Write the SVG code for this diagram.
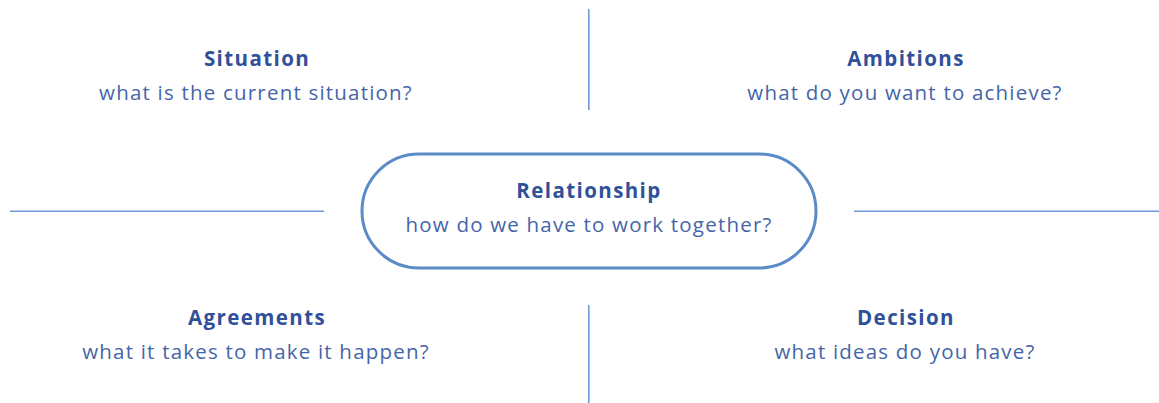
<svg xmlns="http://www.w3.org/2000/svg" width="1159" height="403" viewBox="0 0 1159 403">
<style>
.t{font-family:"Open Sans","Noto Sans",sans-serif;font-weight:bold;font-size:20.5px;fill:#30509a;text-anchor:middle;letter-spacing:1.4px}
.s{font-family:"Open Sans","Noto Sans",sans-serif;font-size:20.5px;fill:#4565a8;text-anchor:middle;letter-spacing:1.2px}
.ln{stroke:#7199d8;stroke-width:1.6;fill:none}
</style>
<rect width="1159" height="403" fill="#fff"/>
<g id="connectors">
<line class="ln" x1="588.8" y1="9" x2="588.8" y2="110"/>
<line class="ln" x1="588.8" y1="305" x2="588.8" y2="403"/>
<line class="ln" x1="10" y1="211.2" x2="324" y2="211.2"/>
<line class="ln" x1="854" y1="211.2" x2="1159" y2="211.2"/>
</g>
<g id="relationship">
<rect x="362" y="154" width="454" height="114" rx="57" ry="57" fill="#fff" stroke="#5b8ac9" stroke-width="3"/>
<text class="t" x="589" y="198">Relationship</text>
<text class="s" x="589" y="232">how do we have to work together?</text>
</g>
<g id="situation">
<text class="t" x="257" y="66">Situation</text>
<text class="s" x="256" y="100">what is the current situation?</text>
</g>
<g id="ambitions">
<text class="t" x="906" y="66">Ambitions</text>
<text class="s" x="905" y="100">what do you want to achieve?</text>
</g>
<g id="agreements">
<text class="t" x="257" y="325">Agreements</text>
<text class="s" x="256" y="359">what it takes to make it happen?</text>
</g>
<g id="decision">
<text class="t" x="906" y="325">Decision</text>
<text class="s" x="905" y="359">what ideas do you have?</text>
</g>
</svg>
